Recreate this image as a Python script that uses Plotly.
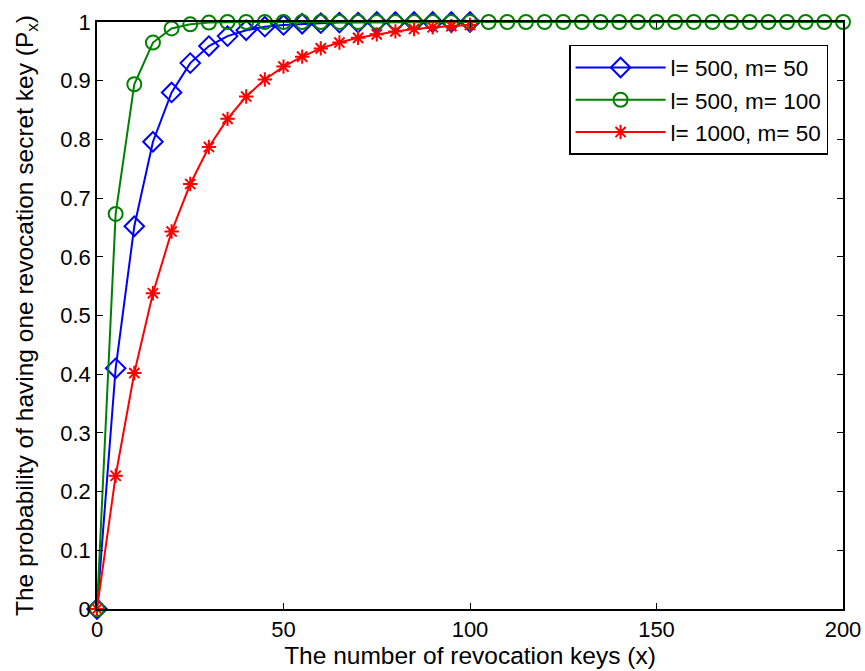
import plotly.graph_objects as go

x_short = list(range(0, 101, 5))
x_long = list(range(0, 201, 5))

p_500_50 = [0, 0.410, 0.652, 0.796, 0.880, 0.930, 0.959, 0.976, 0.986, 0.992, 0.995,
            0.997, 0.998, 0.999, 0.999, 1.0, 1.0, 1.0, 1.0, 1.0, 1.0]
p_500_100 = [0, 0.673, 0.894, 0.965, 0.989, 0.996, 0.999, 1.0, 1.0, 1.0, 1.0,
             1.0, 1.0, 1.0, 1.0, 1.0, 1.0, 1.0, 1.0, 1.0, 1.0,
             1.0, 1.0, 1.0, 1.0, 1.0, 1.0, 1.0, 1.0, 1.0, 1.0,
             1.0, 1.0, 1.0, 1.0, 1.0, 1.0, 1.0, 1.0, 1.0, 1.0]
p_1000_50 = [0, 0.227, 0.402, 0.538, 0.643, 0.724, 0.787, 0.835, 0.873, 0.902, 0.924,
             0.941, 0.955, 0.965, 0.973, 0.979, 0.984, 0.988, 0.991, 0.993, 0.995]

names = ["l= 500, m= 50", "l= 500, m= 100", "l= 1000, m= 50"]

fig = go.Figure()
fig.add_trace(go.Scatter(x=x_short, y=p_500_50, name=names[0], mode="lines+markers",
                         cliponaxis=False,
                         line=dict(color="#0000ff", width=2),
                         marker=dict(symbol="diamond-open", size=15, color="#0000ff",
                                     line=dict(width=2, color="#0000ff"))))
fig.add_trace(go.Scatter(x=x_long, y=p_500_100, name=names[1], mode="lines+markers",
                         cliponaxis=False,
                         line=dict(color="#008000", width=2),
                         marker=dict(symbol="circle-open", size=14, color="#008000",
                                     line=dict(width=2, color="#008000"))))
fig.add_trace(go.Scatter(x=x_short, y=p_1000_50, name=names[2], mode="lines+markers",
                         cliponaxis=False,
                         line=dict(color="#ff0000", width=2),
                         marker=dict(symbol="asterisk-open", size=12, color="#ff0000",
                                     line=dict(width=2, color="#ff0000"))))

axis_common = dict(showgrid=False, zeroline=False, showline=True, mirror="ticks",
                   linecolor="black", linewidth=1.5, ticks="inside", ticklen=6,
                   tickcolor="black", tickfont=dict(size=22, color="black"),
                   automargin=False)

fig.update_layout(
    width=865, height=671,
    margin=dict(l=97, r=22, t=22, b=62),
    paper_bgcolor="white", plot_bgcolor="white",
    font=dict(family="Liberation Sans, Arial, sans-serif", color="black"),
    xaxis=dict(range=[0, 200], tickvals=[0, 50, 100, 150, 200],
               title=dict(text="The number of revocation keys (x)", font=dict(size=24.5), standoff=2),
               **axis_common),
    yaxis=dict(range=[0, 1], tickvals=[i / 10 for i in range(11)],
               ticktext=["0", "0.1", "0.2", "0.3", "0.4", "0.5", "0.6", "0.7", "0.8", "0.9", "1"],
               title=dict(text="The probability of having one revocation secret key (P<sub>x</sub>)",
                          font=dict(size=24.5), standoff=20),
               **axis_common),
    legend=dict(x=0.98, y=0.961, xanchor="right", yanchor="top",
                bgcolor="white", bordercolor="black", borderwidth=1.5,
                font=dict(size=22.5, color="black"), itemwidth=90, tracegroupgap=4),
    showlegend=True,
)

fig.write_html("out.html")
